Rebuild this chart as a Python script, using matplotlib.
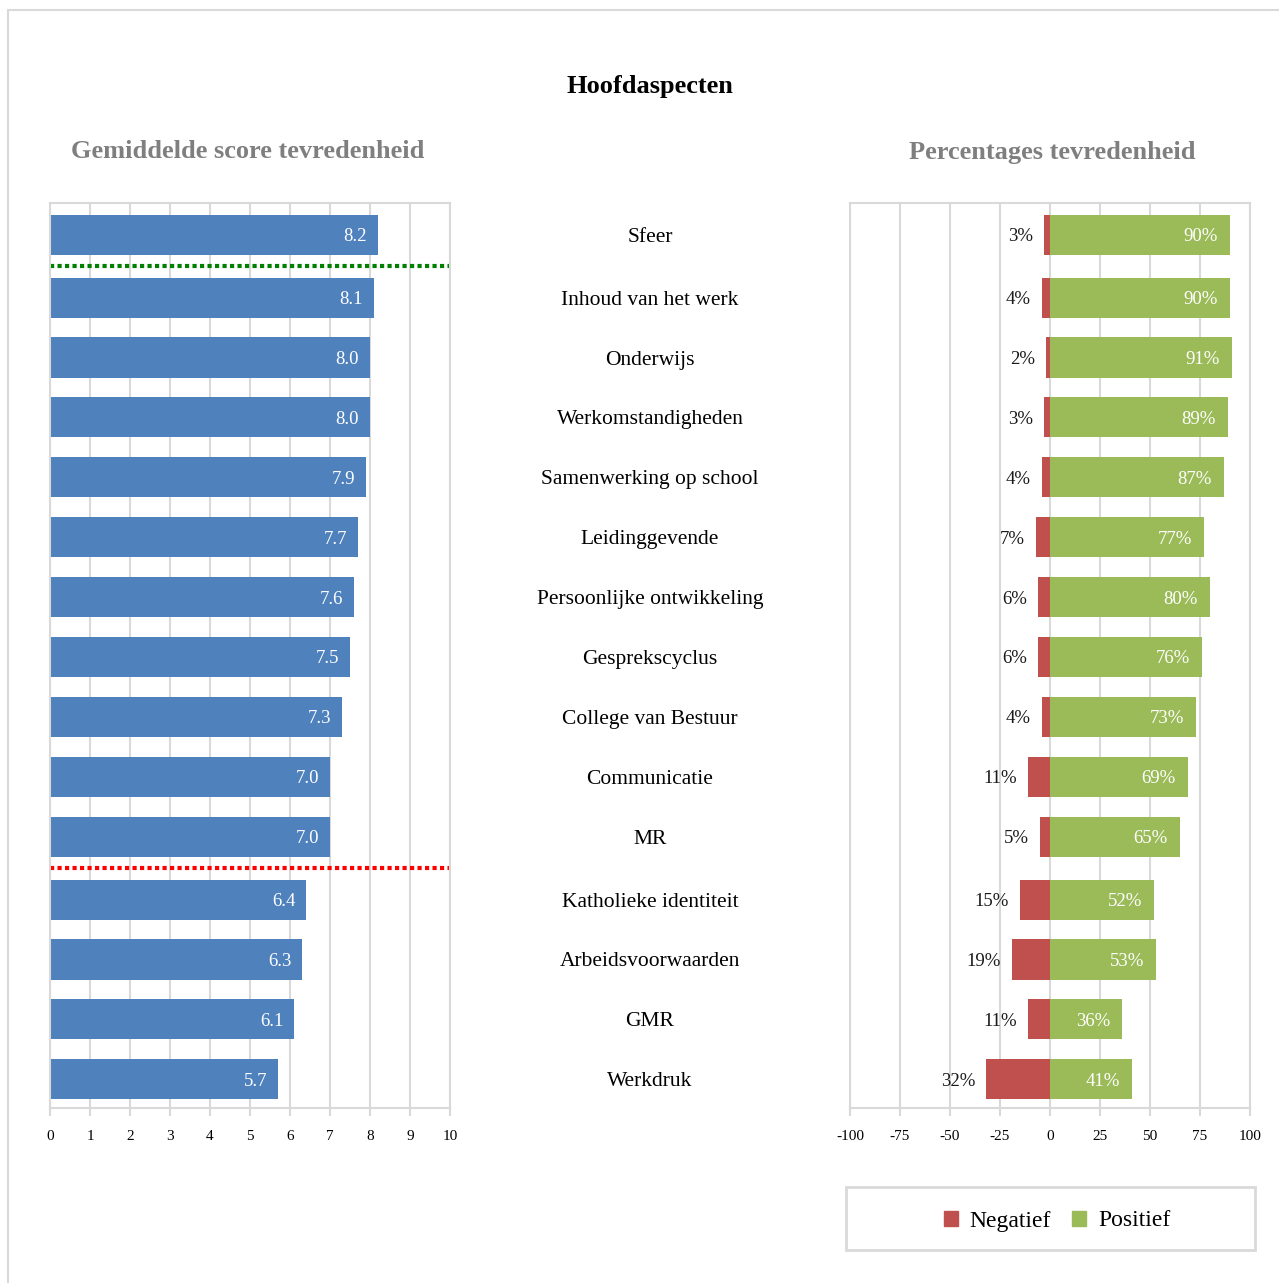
import matplotlib
matplotlib.use('Agg')
import matplotlib.pyplot as plt
import matplotlib.transforms as mtransforms
from matplotlib.patches import Patch, Rectangle
from matplotlib.lines import Line2D
import numpy as np

plt.rcParams['font.family'] = ['Liberation Serif', 'DejaVu Serif']
plt.rcParams['axes.unicode_minus'] = False

categories = ['Sfeer', 'Inhoud van het werk', 'Onderwijs', 'Werkomstandigheden',
              'Samenwerking op school', 'Leidinggevende', 'Persoonlijke ontwikkeling',
              'Gesprekscyclus', 'College van Bestuur', 'Communicatie', 'MR',
              'Katholieke identiteit', 'Arbeidsvoorwaarden', 'GMR', 'Werkdruk']
scores = [8.2, 8.1, 8.0, 8.0, 7.9, 7.7, 7.6, 7.5, 7.3, 7.0, 7.0, 6.4, 6.3, 6.1, 5.7]
negatief = [3, 4, 2, 3, 4, 7, 6, 6, 4, 11, 5, 15, 19, 11, 32]
positief = [90, 90, 91, 89, 87, 77, 80, 76, 73, 69, 65, 52, 53, 36, 41]

left_ticks = list(range(0, 11))
right_ticks = [-100, -75, -50, -25, 0, 25, 50, 75, 100]

BLUE = '#4F81BD'
RED = '#C0504D'
GREEN = '#9BBB59'
GRID = '#D9D9D9'
GREY_TXT = '#7F7F7F'

W, H = 1279, 1283
fig = plt.figure(figsize=(W / 100, H / 100), dpi=100)


def px_axes(x0, y0, x1, y1):
    return fig.add_axes([x0 / W, 1 - y1 / H, (x1 - x0) / W, (y1 - y0) / H])


# rows have a small extra gap where the dotted lines sit
gap = 0.05
idx = np.arange(len(categories))
ypos = idx + gap * (idx >= 1) + gap * (idx >= 11)
ylim = (ypos[-1] + 0.48, -0.53)


def style_axes(ax, ticks):
    ax.set_ylim(*ylim)
    ax.set_xticks(ticks)
    ax.set_yticks([])
    ax.grid(axis='x', color=GRID, linewidth=1.5)
    ax.set_axisbelow(True)
    for s in ax.spines.values():
        s.set_color(GRID)
        s.set_linewidth(1.5)
    ax.tick_params(axis='x', length=6, width=1.5, color=GRID, labelsize=11, pad=10)


# left: average scores
ax1 = px_axes(50, 203, 450, 1108)
ax1.barh(ypos, scores, height=0.67, color=BLUE)
ax1.set_xlim(0, 10)
style_axes(ax1, left_ticks)
for y, v in zip(ypos, scores):
    ax1.text(v - 0.27, y, '%.1f' % v, color='white', fontsize=13.5,
             ha='right', va='center_baseline')
ax1.axhline((ypos[0] + ypos[1]) / 2, color='#008000', linewidth=3,
            linestyle=(0, (1, 0.8)), clip_on=False)
ax1.axhline((ypos[10] + ypos[11]) / 2, color='#FF0000', linewidth=3,
            linestyle=(0, (1, 0.8)), clip_on=False)

# right: percentages
ax2 = px_axes(850, 203, 1250, 1108)
neg = -np.array(negatief)
ax2.barh(ypos, neg, height=0.67, color=RED)
ax2.barh(ypos, positief, height=0.67, color=GREEN)
ax2.set_xlim(-100, 100)
style_axes(ax2, right_ticks)
for y, n, p in zip(ypos, negatief, positief):
    ax2.text(-n - 5.5, y, '%d%%' % n, color='#1a1a1a', fontsize=13.5,
             ha='right', va='center_baseline')
    ax2.text(p - 6, y, '%d%%' % p, color='white', fontsize=13.5,
             ha='right', va='center_baseline')

# category labels in the middle
trans = mtransforms.blended_transform_factory(fig.transFigure, ax1.transData)
for y, c in zip(ypos, categories):
    fig.text(650 / W, y, c, transform=trans, ha='center', va='center_baseline',
             fontsize=15.5, color='black')

# titles
fig.text(650 / W, 1 - 86 / H, 'Hoofdaspecten', ha='center', va='center',
         fontsize=19, fontweight='bold')
fig.text(248 / W, 1 - 152 / H, 'Gemiddelde score tevredenheid', ha='center',
         va='center', fontsize=19, fontweight='bold', color=GREY_TXT)
fig.text(1052 / W, 1 - 152 / H, 'Percentages tevredenheid', ha='center',
         va='center', fontsize=19, fontweight='bold', color=GREY_TXT)

# legend box
fig.patches.append(Rectangle((846 / W, 1 - 1250 / H), 409 / W, 63 / H,
                             transform=fig.transFigure, fill=False,
                             edgecolor=GRID, linewidth=2))
handles = [Patch(color=RED, label='Negatief'), Patch(color=GREEN, label='Positief')]
fig.legend(handles=handles, loc='center', bbox_to_anchor=(1057 / W, 1 - 1221 / H),
           ncol=2, frameon=False, fontsize=17, handlelength=0.6,
           handleheight=0.6, handletextpad=0.5, columnspacing=0.9)

# outer chart border
fig.lines.append(Line2D([8 / W, 8 / W], [0, 1 - 10 / H], transform=fig.transFigure,
                        color=GRID, linewidth=1.5))
fig.lines.append(Line2D([8 / W, 1], [1 - 10 / H, 1 - 10 / H], transform=fig.transFigure,
                        color=GRID, linewidth=1.5))

fig.savefig('out.png', dpi=100)
